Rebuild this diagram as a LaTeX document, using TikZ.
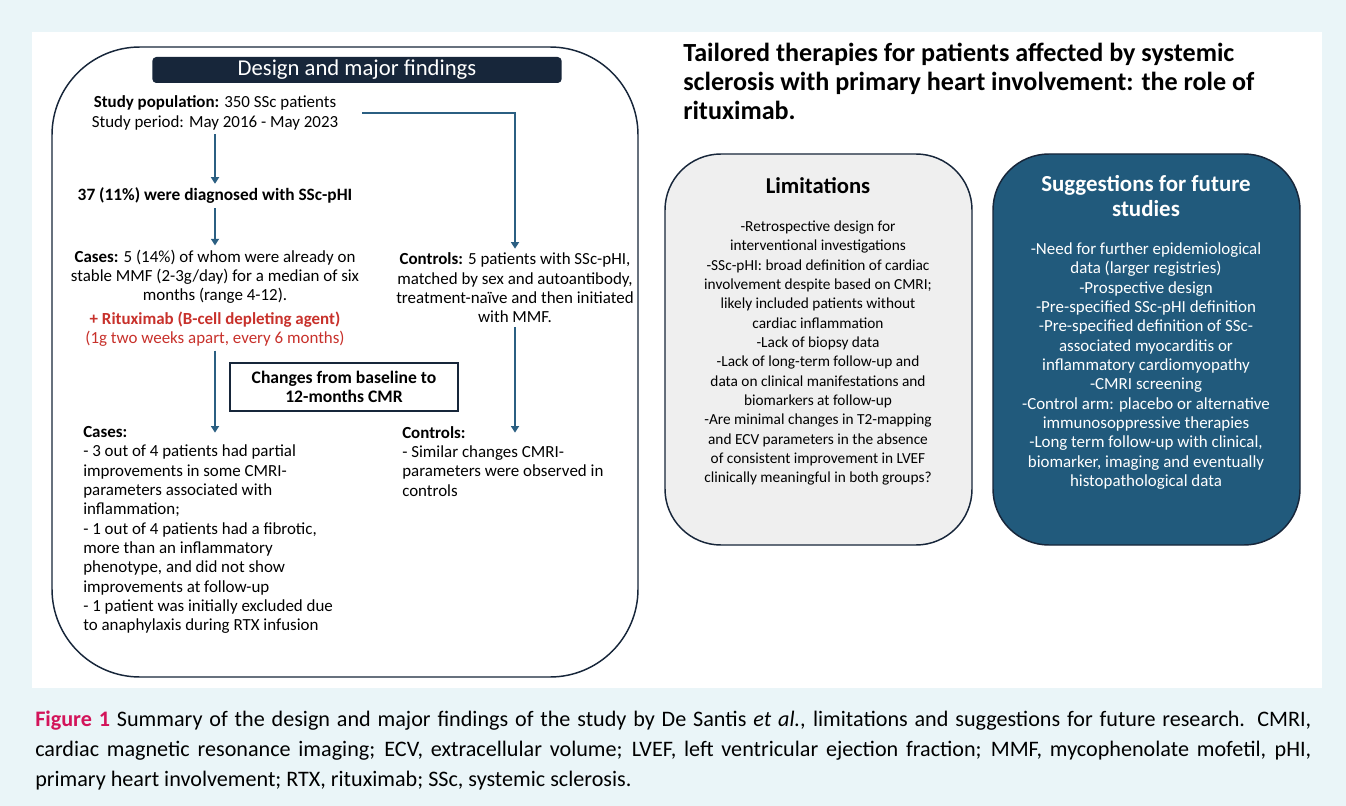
\documentclass[tikz,border=0pt]{standalone}
\usepackage{fontspec}
\setmainfont{Carlito}
\usepackage{xcolor}
\usetikzlibrary{arrows.meta,positioning}

\definecolor{bgcyan}{HTML}{EAF5F8}
\definecolor{navy}{HTML}{17263A}
\definecolor{flowblue}{HTML}{2B5F82}
\definecolor{sugblue}{HTML}{215A7C}
\definecolor{limgray}{HTML}{EFEFEF}
\definecolor{rtxred}{HTML}{C8312B}
\definecolor{figred}{HTML}{D3145A}

\newcommand{\bodyfont}{\fontsize{12.7}{14.5}\selectfont}
\newcommand{\sidefont}{\fontsize{11.5}{14.5}\selectfont}

\begin{document}
\begin{tikzpicture}[x=0.75pt,y=-0.75pt,
  flow/.style={draw=flowblue, line width=1.4pt, -{Triangle[width=6pt,length=5pt]}},
  txt/.style={font=\bodyfont, align=center, inner sep=3pt},
  lefttxt/.style={font=\bodyfont, align=left, inner sep=0pt, anchor=north west},
  panel/.style={draw=navy, line width=1.1pt}]

% background and white panel
\fill[bgcyan] (0,0) rectangle (1346,806);
\fill[white] (32,32) rectangle (1322,688);

% left panel: design and major findings
\draw[panel, rounded corners=66pt] (52,47) rectangle (638,677);
\node[fill=navy, text=white, rounded corners=3pt, minimum width=307pt, minimum height=19.5pt,
  inner sep=0pt, font=\fontsize{17}{19}\selectfont] (header) at (357,70) {Design and major findings};

\node[txt] (study) at (215,113) {\textbf{Study population:} 350 SSc patients\\Study period: May 2016 - May 2023};
\node[txt, font=\fontsize{13}{15}\selectfont\bfseries] (diag) at (215,196) {37 (11\%) were diagnosed with SSc-pHI};
\node[txt] (cases) at (215,298) {\textbf{Cases:} 5 (14\%) of whom were already on\\
  stable MMF (2-3g/day) for a median of six\\months (range 4-12).\\[3pt]
  \textcolor{rtxred}{\textbf{+ Rituximab (B-cell depleting agent)}}\\
  \textcolor{rtxred}{(1g two weeks apart, every 6 months)}};
\node[txt] (controls) at (515,288) {\textbf{Controls:} 5 patients with SSc-pHI,\\
  matched by sex and autoantibody,\\treatment-naïve and then initiated\\with MMF.};

\node[draw=navy, line width=0.8pt, minimum width=171pt, minimum height=36pt, align=center,
  font=\fontsize{13.2}{14.5}\selectfont\bfseries] (change) at (344,387) {Changes from baseline to\\12-months CMR};

\node[lefttxt] (casesres) at (83,426) {\textbf{Cases:}\\
  - 3 out of 4 patients had partial\\improvements in some CMRI-\\parameters associated with\\inflammation;\\
  - 1 out of 4 patients had a fibrotic,\\more than an inflammatory\\phenotype, and did not show\\improvements at follow-up\\
  - 1 patient was initially excluded due\\to anaphylaxis during RTX infusion};
\node[lefttxt] (controlsres) at (402,426) {\textbf{Controls:}\\
  - Similar changes CMRI-\\parameters were observed in\\controls};

\draw[flow] (study) -- (diag);
\draw[flow] (diag) -- (cases);
\draw[flow] ([xshift=15pt]study.east) -| (controls.north);
\draw[flow] (cases.south) -- ([yshift=-5pt]cases.south |- casesres.north);
\draw[flow] (controls.south) -- ([yshift=-5pt]controls.south |- controlsres.north);

% right panel
\node[anchor=north west, align=left, inner sep=0pt, font=\fontsize{19.6}{21.75}\selectfont\bfseries] (title) at (683,43)
  {Tailored therapies for patients affected by systemic\\sclerosis with primary heart involvement: the role of\\rituximab.};

\draw[panel, fill=limgray, rounded corners=42pt] (665,154) rectangle (972,545);
\node[font=\fontsize{17}{19}\selectfont\bfseries] (limtitle) at (818,186) {Limitations};
\node[txt, font=\sidefont] (limits) at (818,353) {-Retrospective design for\\interventional investigations\\
  -SSc-pHI: broad definition of cardiac\\involvement despite based on CMRI;\\likely included patients without\\cardiac inflammation\\
  -Lack of biopsy data\\-Lack of long-term follow-up and\\data on clinical manifestations and\\biomarkers at follow-up\\
  -Are minimal changes in T2-mapping\\and ECV parameters in the absence\\of consistent improvement in LVEF\\clinically meaningful in both groups?};

\draw[panel, fill=sugblue, rounded corners=42pt] (993,154) rectangle (1300,545);
\node[text=white, align=center, font=\fontsize{17.2}{19}\selectfont\bfseries] (sugtitle) at (1146,196)
  {Suggestions for future\\studies};
\node[txt, text=white] (suggest) at (1146,366) {-Need for further epidemiological\\data (larger registries)\\
  -Prospective design\\-Pre-specified SSc-pHI definition\\-Pre-specified definition of SSc-\\associated myocarditis or\\inflammatory cardiomyopathy\\
  -CMRI screening\\-Control arm: placebo or alternative\\immunosoppressive therapies\\
  -Long term follow-up with clinical,\\biomarker, imaging and eventually\\histopathological data};

% caption
\node[anchor=north west, align=left, inner sep=0pt, font=\fontsize{16.6}{22.5}\selectfont] (caption) at (35,711)
  {\makebox[957pt][s]{\textcolor{figred}{\bfseries Figure 1} Summary of the design and major findings of the study by De Santis \textit{et al.}, limitations and suggestions for future research. CMRI,}\\
   \makebox[957pt][s]{cardiac magnetic resonance imaging; ECV, extracellular volume; LVEF, left ventricular ejection fraction; MMF, mycophenolate mofetil, pHI,}\\
   primary heart involvement; RTX, rituximab; SSc, systemic sclerosis.};
\end{tikzpicture}
\end{document}
